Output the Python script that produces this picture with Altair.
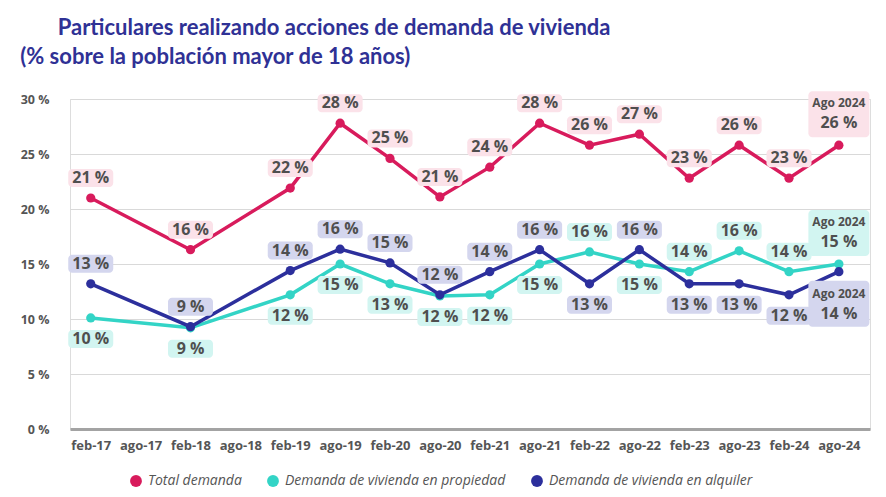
import altair as alt
import pandas as pd

# ---------------- data ----------------
categories = ["feb-17", "ago-17", "feb-18", "ago-18", "feb-19", "ago-19", "feb-20", "ago-20",
              "feb-21", "ago-21", "feb-22", "ago-22", "feb-23", "ago-23", "feb-24", "ago-24"]
series_names = ["Total demanda", "Demanda de vivienda en propiedad", "Demanda de vivienda en alquiler"]

total = [21.0, None, 16.3, None, 21.9, 27.8, 24.6, 21.1, 23.8, 27.8, 25.8, 26.8, 22.8, 25.8, 22.8, 25.8]
propiedad = [10.1, None, 9.2, None, 12.2, 15.0, 13.2, 12.1, 12.2, 15.0, 16.1, 15.0, 14.3, 16.2, 14.3, 15.0]
alquiler = [13.2, None, 9.3, None, 14.4, 16.35, 15.1, 12.2, 14.3, 16.3, 13.2, 16.3, 13.2, 13.2, 12.2, 14.3]

# label placement per point (u = above, d = below, U/D = last label with date, above/below)
total_pos = ["u", None, "u", None, "u", "u", "u", "u", "u", "u", "u", "u", "u", "u", "u", "U"]
prop_pos = ["d", None, "d", None, "d", "d", "d", "d", "d", "d", "u", "d", "u", "u", "u", "U"]
alq_pos = ["u", None, "u", None, "u", "u", "u", "u", "u", "u", "d", "u", "d", "d", "d", "D"]
last_tag = "Ago 2024"

title_line1 = "Particulares realizando acciones de demanda de vivienda"
title_line2 = "(% sobre la población mayor de 18 años)"

line_colors = ["#d81b5c", "#33d4c6", "#2c2f9c"]
box_colors = ["#fbe2e9", "#d2f5f1", "#d4d6ee"]
text_color = "#4f4f4f"

rows = []
for name, vals, poss in zip(series_names, [total, propiedad, alquiler], [total_pos, prop_pos, alq_pos]):
    for i, (c, v, p) in enumerate(zip(categories, vals, poss)):
        if v is None:
            continue
        rows.append({"cat": c, "idx": i, "serie": name, "valor": v, "pos": p,
                     "txt": f"{round(v):d} %", "tag": last_tag})
df = pd.DataFrame(rows)

FONT = "Open Sans"

x_enc = alt.X("cat:N", sort=categories, title=None,
              scale=alt.Scale(type="point", domain=categories, padding=0.52, align=0.4),
              axis=alt.Axis(labelAngle=0, labelFont=FONT, labelFontWeight="bold", labelFontSize=13,
                            labelColor="#555555", domain=True, domainColor="#a3a3a3", domainWidth=3,
                            ticks=False, labelPadding=10, grid=False))
y_enc = alt.Y("valor:Q", title=None,
              scale=alt.Scale(domain=[0, 30], nice=False, zero=True),
              axis=alt.Axis(values=[0, 5, 10, 15, 20, 25, 30], labelExpr="datum.value + ' %'",
                            labelFont=FONT, labelFontWeight="bold", labelFontSize=12.5,
                            labelColor="#555555", domain=False, ticks=False, labelPadding=21,
                            grid=True, gridColor="#d9d9d9", gridWidth=1))

legend = alt.Legend(title=None, orient="none", direction="horizontal",
                    legendX=59, legendY=375,
                    symbolType="circle", symbolSize=140, symbolStrokeWidth=0,
                    labelFont=FONT, labelFontSize=14, labelFontStyle="italic",
                    labelColor="#555555", columnPadding=24, labelOffset=5,
                    labelLimit=400)
color_enc = alt.Color("serie:N", sort=series_names,
                      scale=alt.Scale(domain=series_names, range=line_colors), legend=legend)

# light box colour per series, without a second scale
fill_enc = alt.Fill(value=box_colors[2], condition=[
    {"test": f"datum.serie === '{series_names[0]}'", "value": box_colors[0]},
    {"test": f"datum.serie === '{series_names[1]}'", "value": box_colors[1]},
])

base = alt.Chart(df)

lines = base.mark_line(strokeWidth=3.5).encode(x=x_enc, y=y_enc, color=color_enc,
                                               order=alt.Order("idx:Q"))
points = base.mark_circle(size=85, opacity=1).encode(x=x_enc, y=y_enc, color=color_enc)


def box_layer(pos, off, w, h):
    return base.transform_filter(alt.datum.pos == pos).mark_rect(
        width=w, height=h, cornerRadius=4, yOffset=off, opacity=1
    ).encode(x=x_enc, y=y_enc, fill=fill_enc)


def text_layer(pos, field, dy, size):
    return base.transform_filter(alt.datum.pos == pos).mark_text(
        dy=dy, font=FONT, fontWeight="bold", fontSize=size, color=text_color, baseline="middle"
    ).encode(x=x_enc, y=y_enc, text=f"{field}:N")


layers = [
    lines, points,
    box_layer("u", -20, 45, 18), box_layer("d", 21, 45, 18),
    box_layer("U", -31, 61, 46), box_layer("D", 32, 61, 46),
    text_layer("u", "txt", -20, 16), text_layer("d", "txt", 21, 16),
    text_layer("U", "tag", -42, 12), text_layer("U", "txt", -22, 16),
    text_layer("D", "tag", 22, 12), text_layer("D", "txt", 42, 16),
]

chart = alt.layer(*layers).properties(
    width=800, height=330,
    padding={"left": 12, "top": 9, "right": 6, "bottom": 5},
    title=alt.TitleParams(
        text=["\u2800\u2800\u2005" + title_line1, title_line2],
        anchor="start", font="Lato", fontSize=22, fontWeight="bold", color="#2f3195",
        lineHeight=29, offset=22),
).configure_view(stroke=None).configure(background="white")

chart.save("out.html", embed_options={"renderer": "svg", "actions": False})
